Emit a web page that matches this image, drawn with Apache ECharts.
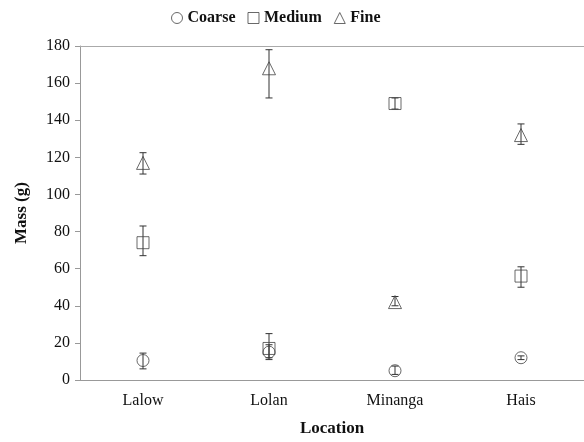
<!DOCTYPE html>
<html><head><meta charset="utf-8">
<script src="https://cdn.jsdelivr.net/npm/echarts@6/dist/echarts.min.js"></script>
<style>html,body{margin:0;padding:0;background:#fff}#c{width:584px;height:442px}</style>
</head><body><div id="c"></div>
<script>
const categories = ['Lalow', 'Lolan', 'Minanga', 'Hais'];
const yTicks = [0, 20, 40, 60, 80, 100, 120, 140, 160, 180];
const coarse = [10.5, 15, 5, 12];
const coarseLo = [6, 11, 3, 11];
const coarseHi = [14.5, 19, 7.5, 13];
const medium = [74, 17, 149, 56];
const mediumLo = [67, 12, 146, 50];
const mediumHi = [83, 25, 152, 61];
const fine = [117, 168, 42, 132];
const fineLo = [111, 152, 40, 127];
const fineHi = [122.5, 178, 45, 138];

const FONT = '"Liberation Serif", "Times New Roman", serif';
const chart = echarts.init(document.getElementById('c'));
const markStyle = {color: 'rgba(0,0,0,0)', borderColor: '#444', borderWidth: 1};

function errSeries(lo, hi) {
  return {
    type: 'custom',
    silent: true,
    z: 3,
    data: categories.map((c, i) => [i, lo[i], hi[i]]),
    encode: {x: 0, y: [1, 2]},
    renderItem: function (params, api) {
      const x = api.value(0);
      const a = api.coord([x, api.value(1)]);
      const b = api.coord([x, api.value(2)]);
      const w = 3.5;
      const st = {stroke: '#333', lineWidth: 1};
      return {type: 'group', children: [
        {type: 'line', shape: {x1: a[0], y1: a[1], x2: b[0], y2: b[1]}, style: st},
        {type: 'line', shape: {x1: a[0] - w, y1: a[1], x2: a[0] + w, y2: a[1]}, style: st},
        {type: 'line', shape: {x1: b[0] - w, y1: b[1], x2: b[0] + w, y2: b[1]}, style: st}
      ]};
    }
  };
}

chart.setOption({
  animation: false,
  backgroundColor: '#fff',
  legend: {
    top: 5, left: 166,
    itemWidth: 11, itemHeight: 11, itemGap: 12,
    textStyle: {fontFamily: FONT, fontWeight: 'bold', fontSize: 16, color: '#111'},
    data: [
      {name: 'Coarse', icon: 'circle', itemStyle: markStyle},
      {name: 'Medium', icon: 'rect', itemStyle: markStyle},
      {name: 'Fine', icon: 'triangle', itemStyle: markStyle}
    ]
  },
  grid: {left: 80, top: 46, width: 512, height: 334},
  xAxis: [{
    type: 'category', data: categories, boundaryGap: true,
    axisLine: {lineStyle: {color: '#999'}},
    axisTick: {lineStyle: {color: '#999'}, length: 4},
    axisLabel: {fontFamily: FONT, fontSize: 16, color: '#111', margin: 13},
    name: 'Location', nameLocation: 'middle', nameGap: 40,
    nameTextStyle: {fontFamily: FONT, fontWeight: 'bold', fontSize: 17, color: '#111'}
  }, {
    type: 'category', data: categories, position: 'top',
    axisLine: {show: true, lineStyle: {color: '#aaa'}},
    axisTick: {show: false}, axisLabel: {show: false}
  }],
  yAxis: {
    type: 'value', min: yTicks[0], max: yTicks[yTicks.length - 1], interval: 20,
    axisLine: {show: true, lineStyle: {color: '#999'}},
    axisTick: {show: true, length: 5, lineStyle: {color: '#999'}},
    splitLine: {show: false},
    axisLabel: {fontFamily: FONT, fontSize: 16, color: '#111', margin: 10},
    name: 'Mass (g)', nameLocation: 'middle', nameGap: 50,
    nameTextStyle: {fontFamily: FONT, fontWeight: 'bold', fontSize: 17, color: '#111'}
  },
  series: [
    {name: 'Coarse', type: 'scatter', symbol: 'circle', symbolSize: 12, data: coarse, itemStyle: markStyle, z: 4},
    {name: 'Medium', type: 'scatter', symbol: 'rect', symbolSize: 12, data: medium, itemStyle: markStyle, z: 4},
    {name: 'Fine', type: 'scatter', symbol: 'triangle', symbolSize: 13, data: fine, itemStyle: markStyle, z: 4},
    errSeries(coarseLo, coarseHi),
    errSeries(mediumLo, mediumHi),
    errSeries(fineLo, fineHi)
  ]
});
</script></body></html>
